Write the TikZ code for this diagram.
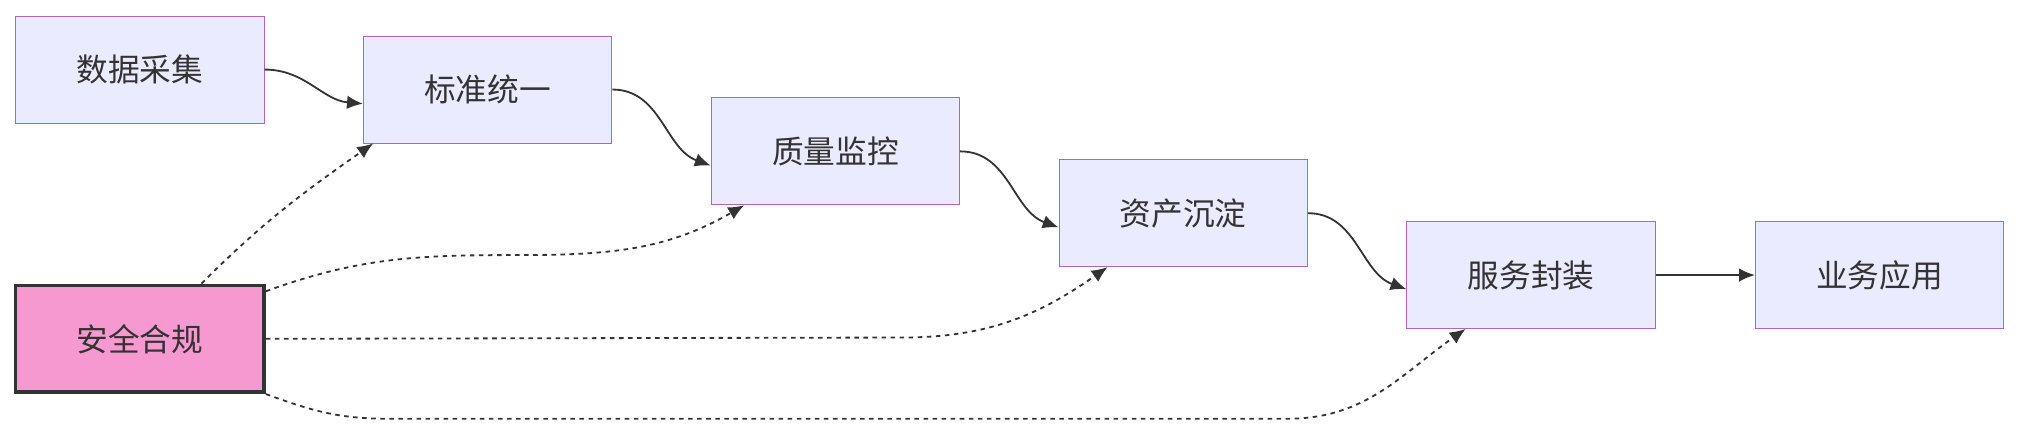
\documentclass[tikz,border=0pt]{standalone}
\usepackage{fontspec}
\setmainfont{Noto Sans CJK SC}
\usetikzlibrary{arrows.meta}
\begin{document}
\begin{tikzpicture}[x=0.02cm, y=-0.02cm]
       \tikzset{>={Latex[length=7pt,width=6pt]},
         stepbox/.style={draw=violet!60, fill=blue!8, minimum width=3.86cm, minimum height=1.66cm, font=\fontsize{14}{16}\selectfont, text=black!80},
         secbox/.style={stepbox, draw=black!80, line width=1.6pt, fill=magenta!40},
         flow/.style={->, draw=black!80, line width=0.8pt},
         guard/.style={->, draw=black!80, line width=0.8pt, dash pattern=on 2pt off 2pt}}
       \useasboundingbox (0,0) rectangle (1568,338);
       \node[stepbox] (collect) at (108.5,54) {数据采集};
       \node[stepbox] (norm) at (378.5,69.5) {标准统一};
       \node[stepbox] (quality) at (648.5,117.5) {质量监控};
       \node[stepbox] (asset) at (918.5,165.5) {资产沉淀};
       \node[stepbox] (service) at (1188.5,213.5) {服务封装};
       \node[stepbox] (app) at (1459,213.5) {业务应用};
       \node[secbox] (sec) at (108.5,263) {安全合规};

       \draw[flow] (collect.east) to[out=0,in=175] ([yshift=-0.22cm]norm.west);
       \draw[flow] (norm.east) to[out=0,in=160] ([yshift=-0.22cm]quality.west);
       \draw[flow] (quality.east) to[out=0,in=160] ([yshift=-0.22cm]asset.west);
       \draw[flow] (asset.east) to[out=0,in=160] ([yshift=-0.22cm]service.west);
       \draw[flow] (service.east) -- (app.west);

       \draw[guard] ([xshift=-1.0cm]sec.north east) to[out=45,in=215] ([xshift=0.16cm]norm.south west);
       \draw[guard] ([yshift=-0.12cm]sec.north east) to[out=20,in=180] (400,198) to[out=0,in=210] ([xshift=0.52cm]quality.south west);
       \draw[guard] (sec.east) -- (700,262) to[out=0,in=215] ([xshift=0.76cm]asset.south west);
       \draw[guard] (sec.south east) to[out=-20,in=180] (300,325) -- (1000,325) to[out=0,in=215] ([xshift=0.92cm]service.south west);
\end{tikzpicture}
\end{document}
